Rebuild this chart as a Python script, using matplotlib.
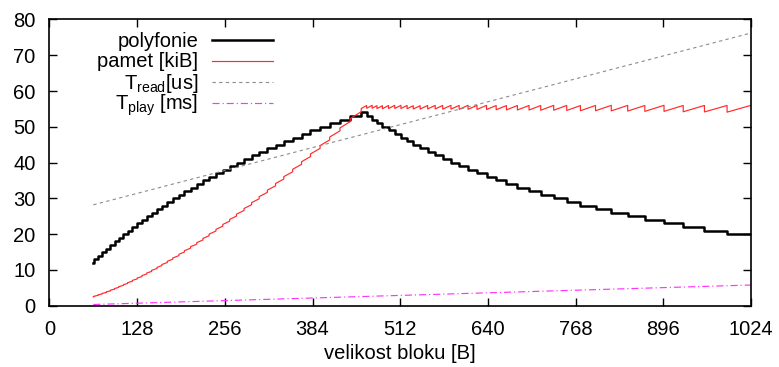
import matplotlib
matplotlib.use("Agg")
import matplotlib.pyplot as plt

# block sizes [B] where the polyphony changes (step function), last = end of range
blok = [64, 65, 71, 77, 83, 89, 95, 101, 108, 114, 121, 128, 135, 142, 149,
        157, 164, 172, 180, 189, 197, 206, 215, 224, 233, 243, 253, 263, 273,
        284, 295, 306, 318, 330, 342, 355, 368, 381, 395, 409, 424, 439, 455,
        463, 471, 478, 486, 495, 504, 513, 522, 531, 541, 552, 563, 574, 586,
        598, 611, 624, 638, 652, 667, 683, 700, 717, 736, 755, 775, 797, 820,
        844, 869, 897, 925, 956, 989, 1024]
polyfonie = [12, 13, 14, 15, 16, 17, 18, 19, 20, 21, 22, 23, 24, 25, 26,
             27, 28, 29, 30, 31, 32, 33, 34, 35, 36, 37, 38, 39, 40,
             41, 42, 43, 44, 45, 46, 47, 48, 49, 50, 51, 52, 53, 54,
             53, 52, 51, 50, 49, 48, 47, 46, 45, 44, 43, 42, 41, 40,
             39, 38, 37, 36, 35, 34, 33, 32, 31, 30, 29, 28, 27, 26,
             25, 24, 23, 22, 21, 20, 20]
# memory [kiB] just before and just after each change of polyphony
pamet_pred = [2.50, 2.54, 2.91, 3.31, 3.73, 4.17, 4.64, 5.13, 5.70, 6.23, 6.85,
              7.50, 8.17, 8.88, 9.60, 10.43, 11.21, 12.09, 13.01, 14.03, 15.01,
              16.09, 17.22, 18.38, 19.57, 20.88, 22.24, 23.63, 25.06, 26.63,
              28.23, 29.88, 31.68, 33.52, 35.40, 37.44, 39.53, 41.67, 43.97,
              46.33, 48.86, 51.45, 54.21,
              55.95, 56.00, 55.90, 55.89, 55.96, 56.00, 56.00, 55.97, 55.90,
              55.90, 55.96, 55.98, 55.96, 55.99, 55.97, 56.00, 55.97, 55.99,
              55.95, 55.93, 55.95, 55.97, 55.94, 55.99, 55.96, 55.93, 55.97,
              55.99, 55.98, 55.95, 56.00, 55.95, 55.96, 55.96, 56.00]
pamet_po = [2.50, 2.67, 3.05, 3.46, 3.89, 4.35, 4.82, 5.33, 5.91, 6.46, 7.09,
            7.75, 8.44, 9.15, 9.89, 10.73, 11.53, 12.43, 13.36, 14.40, 15.39,
            16.50, 17.64, 18.81, 20.02, 21.36, 22.73, 24.14, 25.59, 27.18,
            28.81, 30.48, 32.30, 34.16, 36.07, 38.13, 40.25, 42.42, 44.75,
            47.13, 49.69, 52.30, 55.10,
            55.16, 55.20, 55.08, 55.05, 55.11, 55.13, 55.11, 55.05, 54.97,
            54.95, 54.98, 54.98, 54.93, 54.94, 54.89, 54.89, 54.84, 54.83,
            54.76, 54.71, 54.69, 54.69, 54.62, 54.63, 54.56, 54.49, 54.48,
            54.45, 54.40, 54.31, 54.31, 54.20, 54.15, 54.09, 56.00]

blok_t = [64, 256, 512, 768, 1024]
t_read = [28.2, 37.8, 50.6, 63.4, 76.2]
t_play = [0.36, 1.45, 2.90, 4.35, 5.80]

plt.rcParams["font.family"] = ["Liberation Sans", "DejaVu Sans"]
plt.rcParams["mathtext.fontset"] = "custom"
plt.rcParams["mathtext.rm"] = "Liberation Sans"
plt.rcParams["font.size"] = 14.5

fig = plt.figure(figsize=(7.79, 3.67), dpi=100)
ax = fig.add_axes([0.0635, 0.1668, 0.9006, 0.7803])

pamet_x, pamet_y = [], []
for b, a, c in zip(blok, pamet_pred, pamet_po):
    pamet_x += [b, b]
    pamet_y += [a, c]

red = "#ff2a2a"
gray = "#8c8c8c"
magenta = "#ff33ff"

ax.plot(blok, polyfonie, color="black", lw=1.8, drawstyle="steps-post")
ax.plot(pamet_x, pamet_y, color=red, lw=0.85)
ax.plot(blok_t, t_read, color=gray, lw=0.8, dashes=(3, 3))
ax.plot(blok_t, t_play, color=magenta, lw=0.85, dashes=(6, 2.5, 1, 2.5))

ax.set_xlim(0, 1024)
ax.set_ylim(0, 80)
ax.set_xticks(range(0, 1025, 128))
ax.set_yticks(range(0, 81, 10))
ax.tick_params(direction="in", length=6, width=1, top=True, right=True)
ax.tick_params(axis="y", pad=10)
ax.tick_params(axis="x", pad=10.2)
for s in ax.spines.values():
    s.set_linewidth(1.2)
ax.set_xlabel("velikost bloku [B]", labelpad=3.5)

# gnuplot-like key: labels right aligned, samples on the right
rows = [("polyfonie", dict(color="black", lw=1.8)),
        ("pamet [kiB]", dict(color=red, lw=0.85)),
        (r"T$_{\mathrm{read}}$[us]", dict(color=gray, lw=0.8, dashes=(3, 3))),
        (r"T$_{\mathrm{play}}$ [ms]", dict(color=magenta, lw=0.85, dashes=(6, 2.5, 1, 2.5)))]
ys = [0.928, 0.856, 0.781, 0.707]
for (label, style), y in zip(rows, ys):
    ax.text(0.212, y - 0.0237, label, transform=ax.transAxes, ha="right", va="baseline")
    ax.plot([0.231, 0.318], [y, y], transform=ax.transAxes, clip_on=False, **style)

fig.savefig("out.png", dpi=100)
